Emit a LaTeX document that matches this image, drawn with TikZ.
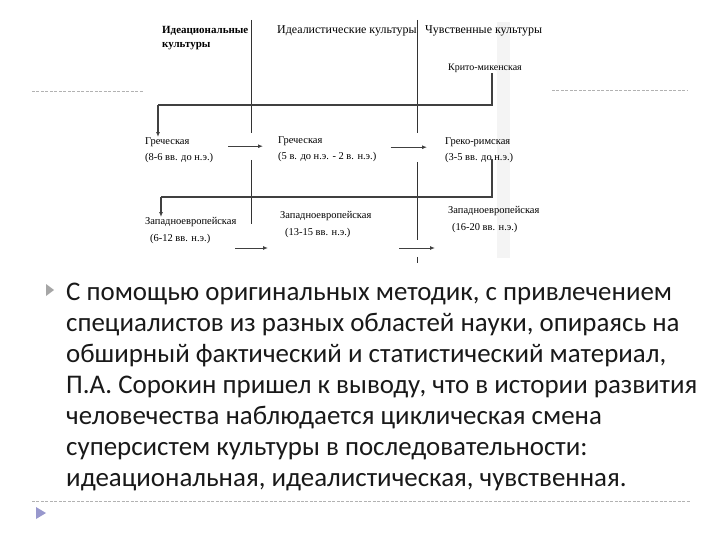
\documentclass[tikz,border=0pt]{standalone}
\usepackage{fontspec}
\setmainfont{Carlito}
\newfontfamily\tnr{Liberation Serif}
\usetikzlibrary{arrows.meta,positioning,calc}
\tikzset{
  lbl/.style={font=\tnr\fontsize{10.5}{17}\selectfont,align=left,inner sep=0pt,anchor=north west},
  head/.style={lbl,font=\tnr\fontsize{12}{14}\selectfont},
  sep/.style={line width=1pt,black!80},
  link/.style={line width=1.3pt,black!75},
  arrow/.style={-{Latex[length=5pt,width=4pt]},line width=1.3pt,black!75},
  rule/.style={gray!60,dash pattern=on 3pt off 1.5pt,line width=0.6pt}
}

\begin{document}
\begin{tikzpicture}[x=1bp,y=-1bp]
  \useasboundingbox (0,0) rectangle (720,540);
  \fill[gray!9] (497,22) rectangle (510,258);

  \node[head,font=\tnr\bfseries\fontsize{11}{14}\selectfont] (idc) at (162,26) {Идеациональные\\культуры};
  \node[head] (idl) at (277,25) {Идеалистические культуры};
  \node[head] (cht) at (425,25) {Чувственные культуры};
  \node[lbl,font=\tnr\fontsize{10}{12}\selectfont] (krit) at (448,64) {Крито-микенская};

  \node[lbl] (gr1) at (145,137) {Греческая\\(8-6 вв. до н.э.)};
  \node[lbl] (gr2) at (278,136) {Греческая\\(5 в. до н.э. - 2 в. н.э.)};
  \node[lbl] (gr3) at (445,137) {Греко-римская\\(3-5 вв. до н.э.)};

  \node[lbl] (we1) at (145,217) {Западноевропейская\\\hspace*{5bp}(6-12 вв. н.э.)};
  \node[lbl] (we2) at (280,211) {Западноевропейская\\\hspace*{5bp}(13-15 вв. н.э.)};
  \node[lbl] (we3) at (448,206) {Западноевропейская\\\hspace*{4bp}(16-20 вв. н.э.)};

  \coordinate (rc) at (492,0);
  \coordinate (turn1) at (158,105);
  \coordinate (turn2) at (161,197);

  % column borders
  \draw[sep] (251,20) -- (251,133) (251,160) -- (251,224);
  \draw[sep] (417,20) -- (417,133) (417,162) -- (417,240) (417,257) -- (417,263);

  \draw[link] (rc |- krit.south) |- (turn1);
  \draw[arrow] (turn1) -- (turn1 |- gr1.north);
  \draw[link] ([yshift=4bp]rc |- gr3.south) |- (turn2);
  \draw[arrow] (turn2) -- (turn2 |- we1.north);

  \draw[arrow] ([xshift=15bp,yshift=4bp]gr1.east) -- ([xshift=-15bp,yshift=4bp]gr2.west |- gr1.east);
  \draw[arrow] ([xshift=14bp,yshift=2bp]gr2.east) -- ([xshift=-18bp,yshift=2bp]gr3.west |- gr2.east);
  \draw[arrow,line width=1pt] (235,248) -- ([xshift=-12bp]we2.west |- 0,248);
  \draw[arrow,line width=1pt] (399,248) -- ([xshift=-13bp]we3.west |- 0,248);

  \draw[rule] (32,91) -- (143,91) (552,90) -- (688,90);
  \draw[rule] (32,501) -- (690,501);

  \fill[gray!70] (46,284) -- (54,290) -- (46,296) -- cycle;
  \fill[blue!35!gray!60] (36,507) -- (46,513) -- (36,519) -- cycle;

  \node[anchor=base west,align=left,inner sep=0pt,font=\fontsize{27}{31}\selectfont,text=black!90] (body) at (66,486)
    {С помощью оригинальных методик, с привлечением\\
     специалистов из разных областей науки, опираясь на\\
     обширный фактический и статистический материал,\\
     П.А. Сорокин пришел к выводу, что в истории развития\\
     человечества наблюдается циклическая смена\\
     суперсистем культуры в последовательности:\\
     идеациональная, идеалистическая, чувственная.};
\end{tikzpicture}
\end{document}
